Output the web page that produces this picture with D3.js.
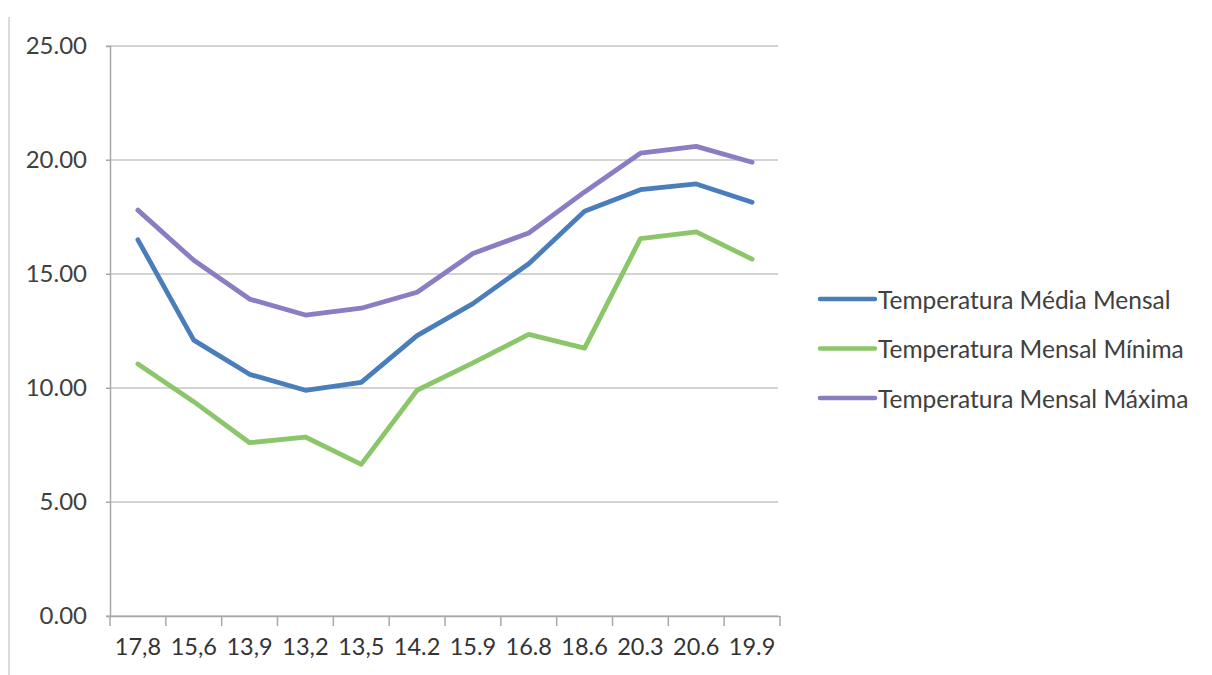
<!DOCTYPE html>
<html>
<head>
<meta charset="utf-8">
<script src="https://cdn.jsdelivr.net/npm/d3@7"></script>
<style>
  body { margin:0; background:#fff; }
  svg text { font-family: Lato, "Open Sans", sans-serif; fill:#404040; }
</style>
</head>
<body>
<div id="chart"></div>
<script>
//Set dimensions of svg
var w=1212;
var h=675;

//Categories (x labels as written in the chart)
var months=["17,8","15,6","13,9","13,2","13,5","14.2","15.9","16.8","18.6","20.3","20.6","19.9"];

//Series values
var media=[16.5,12.1,10.6,9.9,10.25,12.3,13.7,15.45,17.75,18.7,18.95,18.15];
var minima=[11.05,9.4,7.6,7.85,6.65,9.9,11.1,12.35,11.75,16.55,16.85,15.65];
var maxima=[17.8,15.6,13.9,13.2,13.5,14.2,15.9,16.8,18.6,20.3,20.6,19.9];

var seriesNames=["Temperatura Média Mensal","Temperatura Mensal Mínima","Temperatura Mensal Máxima"];
var colors=["#4a7ebb","#8cc66a","#8b7cc3"];
var yTicks=[0,5,10,15,20,25];

var series=[media,minima,maxima];

var svg=d3.select("#chart")
          .append("svg")
          .attr("width",w)
          .attr("height",h);

//scan border on the left
svg.append("line")
   .attr("x1",9).attr("x2",9)
   .attr("y1",17).attr("y2",h)
   .style("stroke","#b8b8b8")
   .style("stroke-width",1);

//Scales
var x=d3.scaleBand()
        .domain(months)
        .range([110,780]);

var y=d3.scaleLinear()
        .domain([0,25])
        .range([616,46]);

//Gridlines
svg.append("g")
   .selectAll("line")
   .data(yTicks)
   .enter()
   .append("line")
   .attr("x1",106)
   .attr("x2",778)
   .attr("y1",function(d) {return y(d);})
   .attr("y2",function(d) {return y(d);})
   .style("stroke","#c4c4c4")
   .style("stroke-width",1.5);

//Y axis
var yAxis=svg.append("g")
   .attr("transform","translate(110,0)")
   .call(d3.axisLeft(y).tickValues(yTicks).tickSize(4).tickFormat(d3.format(".2f")));
yAxis.select(".domain").style("stroke","#a8a8a8").style("stroke-width",1.5);
yAxis.selectAll(".tick line").style("stroke","#a8a8a8");
yAxis.selectAll("text")
     .attr("x",-23)
     .style("font-size","24px")
     .style("fill","#404040");

//X axis
var xAxis=svg.append("g")
   .attr("transform","translate(0,616)")
   .call(d3.axisBottom(x).tickSize(0));
xAxis.select(".domain").style("stroke","#a8a8a8").style("stroke-width",1.5);
xAxis.selectAll("text")
     .attr("y",22)
     .style("font-size","23.5px")
     .style("fill","#333");

//Tick marks on band boundaries
var bounds=months.map(function(d) {return x(d);}).concat([x.range()[1]]);
svg.append("g")
   .selectAll("line")
   .data(bounds)
   .enter()
   .append("line")
   .attr("x1",function(d) {return d;})
   .attr("x2",function(d) {return d;})
   .attr("y1",616)
   .attr("y2",626)
   .style("stroke","#a8a8a8")
   .style("stroke-width",1.5);

//Lines
var line=d3.line()
           .x(function(d,i) {return x(months[i])+x.bandwidth()/2;})
           .y(function(d) {return y(d);});

svg.append("g")
   .selectAll("path")
   .data(series)
   .enter()
   .append("path")
   .attr("d",function(d) {return line(d);})
   .style("fill","none")
   .style("stroke",function(d,i) {return colors[i];})
   .style("stroke-width",4.8)
   .style("stroke-linejoin","round")
   .style("stroke-linecap","round");

//Legend
var legend=svg.append("g")
              .selectAll("g")
              .data(seriesNames)
              .enter()
              .append("g")
              .attr("transform",function(d,i) {return "translate(820,"+(299+i*49.5)+")";});
legend.append("line")
      .attr("x1",0)
      .attr("x2",55)
      .style("stroke",function(d,i) {return colors[i];})
      .style("stroke-width",4.5)
      .style("stroke-linecap","round");
legend.append("text")
      .text(function(d) {return d;})
      .attr("x",58)
      .attr("y",0)
      .attr("dominant-baseline","central")
      .style("font-size","24.5px");
</script>
</body>
</html>
